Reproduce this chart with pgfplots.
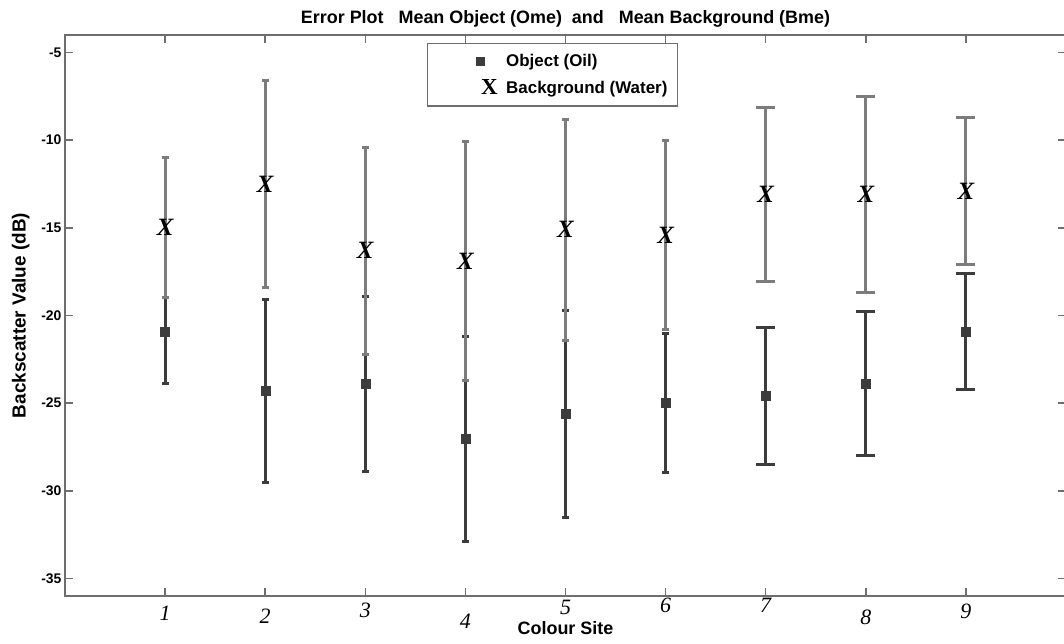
\documentclass[border=0pt]{standalone}
\usepackage{fontspec}
\setmainfont{Liberation Sans}
\newfontfamily\serifit{Liberation Serif}
\usepackage{pgfplots}
\pgfplotsset{compat=1.18}
\usetikzlibrary{calc}
\definecolor{axgray}{HTML}{6E6E6E}
\definecolor{objc}{HTML}{3C3C3C}
\definecolor{bgc}{HTML}{7C7C7C}
\newcommand{\xl}[2]{\raisebox{#1bp}[15bp][0pt]{\serifit\itshape\fontsize{22}{22}\selectfont #2}}
\newcommand{\bigX}{\textcolor{black}{\serifit\bfseries\itshape\fontsize{25}{25}\selectfont X}}
\newcommand{\smallX}{\textcolor{black}{\serifit\bfseries\fontsize{23}{23}\selectfont X}}
\pgfplotsset{
  objleg/.style={legend image code/.code={\path (-44bp,0) (23bp,0); \fill[objc] (-3.5bp,-3.5bp) rectangle (3.5bp,3.5bp);}},
  bgleg/.style={legend image code/.code={\path (-44bp,0) (23bp,0); \node[inner sep=0pt] at (0bp,0bp) {\smallX};}},
}
\begin{document}
\begin{tikzpicture}
\begin{axis}[
  scale only axis, width=1001bp, height=561bp,
  xmin=0, xmax=10, ymin=-36, ymax=-4,
  xtick={1,...,9},
  xticklabels={\xl{-2}{1},\xl{-5}{2},\xl{1}{3},\xl{-10}{4},\xl{4}{5},\xl{6}{6},\xl{6}{7},\xl{-6}{8},\xl{0}{9}},
  xticklabel style={yshift=-4bp},
  ytick={-35,-30,-25,-20,-15,-10,-5},
  yticklabels={-35,-30,-25,-20,-15,-10,-5},
  yticklabel style={font=\bfseries\fontsize{14}{14}\selectfont},
  tick align=inside, major tick length=8bp,
  axis line style={draw=axgray, line width=2.2bp},
  every tick/.style={draw=axgray, line width=1.5bp},
  title={Error Plot\ \ \ Mean Object (Ome)\ \ and\ \ \ Mean Background (Bme)},
  title style={font=\bfseries\fontsize{18}{18}\selectfont, yshift=-2bp},
  xlabel={Colour Site},
  every axis x label/.style={at={(axis description cs:0.5,0)}, anchor=center, yshift=-32bp},
  xlabel style={font=\bfseries\fontsize{18}{18}\selectfont},
  ylabel={Backscatter Value (dB)},
  ylabel shift=5bp,
  ylabel style={font=\bfseries\fontsize{19}{19}\selectfont},
  legend style={at={(0.3616,0.986)}, anchor=north west, draw=axgray, line width=1.5bp,
    font=\bfseries\fontsize{17}{17}\selectfont, row sep=9bp, inner xsep=8bp, inner ysep=9bp},
  legend cell align=left,
]
\coordinate (SW) at (rel axis cs:0,0);
\coordinate (NE) at (rel axis cs:1,1);
% Object (Oil), sites 1-6 (small caps)
\addplot[only marks, mark=square*, mark size=4.5bp, color=objc, mark options={fill=objc, draw=objc},
  objleg,
  error bars/.cd, y dir=both, y explicit,
  error bar style={line width=3bp, color=objc},
  error mark options={line width=3bp, mark size=3.5bp, color=objc, rotate=90}]
  coordinates {
  (1,-20.9) += (0,1.9) -= (0,3.0)
  (2,-24.3) +- (0,5.2)
  (3,-23.9) +- (0,5.0)
  (4,-27.05) +- (0,5.85)
  (5,-25.6) +- (0,5.9)
  (6,-25.0) +- (0,3.95)
  };
\addlegendentry{Object (Oil)}
% Background (Water), sites 1-6
\addplot[only marks, mark=text, text mark={\bigX},
  bgleg,
  color=bgc,
  error bars/.cd, y dir=both, y explicit,
  error bar style={line width=3bp, color=bgc},
  error mark options={line width=3bp, mark size=3.5bp, color=bgc, rotate=90}]
  coordinates {
  (1,-15.0) +- (0,4.0)
  (2,-12.5) +- (0,5.9)
  (3,-16.3) +- (0,5.9)
  (4,-16.9) +- (0,6.8)
  (5,-15.1) +- (0,6.3)
  (6,-15.4) +- (0,5.4)
  };
\addlegendentry{Background (Water)}
% Object, sites 7-9 (wide caps)
\addplot[forget plot, only marks, mark=square*, mark size=4.5bp, color=objc, mark options={fill=objc, draw=objc},
  error bars/.cd, y dir=both, y explicit,
  error bar style={line width=3bp, color=objc},
  error mark options={line width=3bp, mark size=9.5bp, color=objc, rotate=90}]
  coordinates {
  (7,-24.6) +- (0,3.9)
  (8,-23.9) +- (0,4.1)
  (9,-20.9) +- (0,3.3)
  };
% Background, sites 7-9
\addplot[forget plot, only marks, mark=text, text mark={\bigX},
  color=bgc,
  error bars/.cd, y dir=both, y explicit,
  error bar style={line width=3bp, color=bgc},
  error mark options={line width=3bp, mark size=9.5bp, color=bgc, rotate=90}]
  coordinates {
  (7,-13.1) +- (0,4.95)
  (8,-13.1) +- (0,5.6)
  (9,-12.9) +- (0,4.2)
  };
\end{axis}
\pgfresetboundingbox
\useasboundingbox ($(SW)+(-65bp,-47bp)$) rectangle ($(NE)+(-2bp,35bp)$);
\end{tikzpicture}
\end{document}
